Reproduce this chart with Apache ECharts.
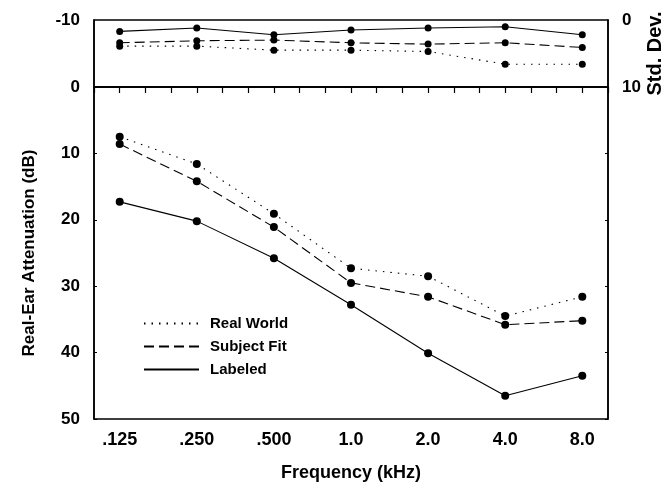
<!DOCTYPE html>
<html>
<head>
<meta charset="utf-8">
<script src="https://cdn.jsdelivr.net/npm/echarts@6/dist/echarts.min.js"></script>
<style>
  html, body { margin: 0; padding: 0; background: #fff; }
  #main { width: 668px; height: 490px; }
</style>
</head>
<body>
<div id="main"></div>
<script>
// frequency bands (kHz)
var freqLabels = ['.125', '.250', '.500', '1.0', '2.0', '4.0', '8.0'];

// real-ear attenuation (dB)
var realWorld  = [7.5, 11.6, 19.1, 27.3, 28.5, 34.5, 31.6];
var subjectFit = [8.6, 14.2, 21.1, 29.5, 31.6, 35.8, 35.2];
var labeled    = [17.3, 20.2, 25.8, 32.8, 40.1, 46.5, 43.5];

// standard deviations (top panel)
var sdRealWorld  = [3.9, 3.9, 4.5, 4.5, 4.7, 6.6, 6.6];
var sdSubjectFit = [3.4, 3.1, 3.0, 3.4, 3.6, 3.4, 4.1];
var sdLabeled    = [1.7, 1.2, 2.2, 1.5, 1.2, 1.0, 2.2];

var attTicks = [0, 10, 20, 30, 40, 50];
var sdTicks = [0, 10];

// each band sits on every third tick of the x axis
function toPoints(arr) {
    return arr.map(function (v, i) { return [i * 3 + 1, v]; });
}

var font = 'Liberation Sans, Arial, sans-serif';
var dotted = [1.5, 6];
var dashed = [10, 5];

var myChart = echarts.init(document.getElementById('main'));

function lineSeries(name, data, dash, xi, yi, size) {
    return {
        name: name,
        type: 'line',
        xAxisIndex: xi,
        yAxisIndex: yi,
        data: toPoints(data),
        symbol: 'circle',
        symbolSize: size,
        itemStyle: { color: '#000' },
        lineStyle: { color: '#000', width: 1.1, type: dash },
        animation: false
    };
}

var option = {
    backgroundColor: '#fff',
    grid: [
        { left: 94, right: 60, top: 20, height: 67, show: true, borderColor: '#000', borderWidth: 1.5, outerBoundsMode: 'none' },
        { left: 94, right: 60, top: 87, height: 332, show: true, borderColor: '#000', borderWidth: 1.5, outerBoundsMode: 'none' }
    ],
    legend: {
        orient: 'vertical',
        left: 138,
        top: 311,
        itemWidth: 55,
        itemHeight: 14,
        itemGap: 8,
        data: ['Real World', 'Subject Fit', 'Labeled'],
        itemStyle: { opacity: 0 },
        textStyle: { fontFamily: font, fontWeight: 'bold', fontSize: 15, color: '#000', padding: [0, 0, 0, 6] },
        selectedMode: false
    },
    xAxis: [
        {
            gridIndex: 0, type: 'value', min: 0, max: 20, interval: 1,
            axisLine: { show: false }, axisTick: { show: false },
            axisLabel: { show: false }, splitLine: { show: false }
        },
        {
            gridIndex: 1, type: 'value', min: 0, max: 20, interval: 1,
            name: 'Frequency (kHz)', nameLocation: 'middle', nameGap: 45,
            nameTextStyle: { fontFamily: font, fontWeight: 'bold', fontSize: 18, color: '#000' },
            axisLine: { show: true, lineStyle: { color: '#000', width: 1.5 } },
            axisTick: { show: true, inside: false, length: 6, lineStyle: { color: '#000', width: 1.2 } },
            axisLabel: {
                margin: 12, fontFamily: font, fontWeight: 'bold', fontSize: 18, color: '#000',
                formatter: function (v) {
                    return (v - 1) % 3 === 0 ? freqLabels[(v - 1) / 3] : '';
                }
            },
            splitLine: { show: false }
        }
    ],
    yAxis: [
        {
            // top-left: -10 .. 0
            gridIndex: 0, type: 'value', min: -10, max: 0, interval: 10, inverse: true,
            axisLine: { show: true, lineStyle: { color: '#000', width: 1.5 } },
            axisTick: { show: false },
            axisLabel: {
                margin: 14, fontFamily: font, fontWeight: 'bold', fontSize: 17, color: '#000',
                formatter: function (v) { return v === -10 ? '-10' : ''; }
            },
            splitLine: { show: false }
        },
        {
            // top-right: std. dev.
            gridIndex: 0, type: 'value', min: 0, max: 10, interval: 10, inverse: true, position: 'right',
            name: 'Std. Dev.', nameLocation: 'middle', nameGap: 37, nameRotate: 90, nameMoveOverlap: false,
            nameTextStyle: { fontFamily: font, fontWeight: 'bold', fontSize: 20, color: '#000' },
            axisLine: { show: true, lineStyle: { color: '#000', width: 1.5 } },
            axisTick: { show: false },
            axisLabel: {
                margin: 14, fontFamily: font, fontWeight: 'bold', fontSize: 17, color: '#000',
                formatter: function (v) { return sdTicks.indexOf(v) >= 0 ? String(v) : ''; }
            },
            splitLine: { show: false }
        },
        {
            // bottom-left: attenuation
            gridIndex: 1, type: 'value', min: 0, max: 50, interval: 10, inverse: true,
            name: 'Real-Ear Attenuation (dB)', nameLocation: 'middle', nameGap: 56, nameMoveOverlap: false,
            nameTextStyle: { fontFamily: font, fontWeight: 'bold', fontSize: 17, color: '#000' },
            axisLine: { show: true, lineStyle: { color: '#000', width: 1.5 } },
            axisTick: { show: true, inside: true, length: 3, lineStyle: { color: '#000', width: 1 } },
            axisLabel: {
                margin: 14, fontFamily: font, fontWeight: 'bold', fontSize: 17, color: '#000',
                formatter: function (v) { return attTicks.indexOf(v) >= 0 ? String(v) : ''; }
            },
            splitLine: { show: false }
        },
        {
            // bottom-right: ticks only
            gridIndex: 1, type: 'value', min: 0, max: 50, interval: 10, inverse: true, position: 'right',
            axisLine: { show: true, lineStyle: { color: '#000', width: 1.5 } },
            axisTick: { show: true, inside: true, length: 3, lineStyle: { color: '#000', width: 1 } },
            axisLabel: { show: false },
            splitLine: { show: false }
        }
    ],
    series: [
        lineSeries('Real World', sdRealWorld, dotted, 0, 1, 7),
        lineSeries('Subject Fit', sdSubjectFit, dashed, 0, 1, 7),
        lineSeries('Labeled', sdLabeled, 'solid', 0, 1, 7),
        lineSeries('Real World', realWorld, dotted, 1, 2, 8),
        lineSeries('Subject Fit', subjectFit, dashed, 1, 2, 8),
        lineSeries('Labeled', labeled, 'solid', 1, 2, 8)
    ]
};

myChart.setOption(option);
</script>
</body>
</html>
